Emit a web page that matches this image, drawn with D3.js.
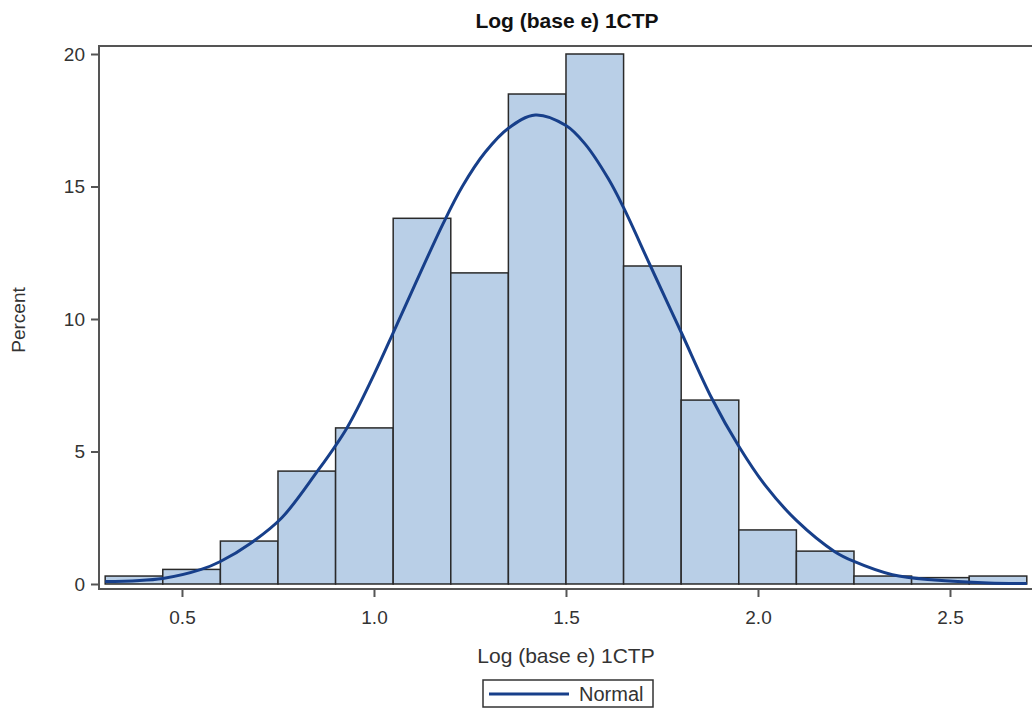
<!DOCTYPE html>
<html>
<head>
<meta charset="utf-8">
<script src="https://cdn.jsdelivr.net/npm/d3@7"></script>
<style>
  html, body { margin: 0; padding: 0; background: #fff; }
  svg { display: block; font-family: "Liberation Sans", Arial, sans-serif; }
</style>
</head>
<body>
<svg id="chart" width="1032" height="708"></svg>
<script>
// ---- data ----
const titleText = "Log (base e) 1CTP";
const xLabel = "Log (base e) 1CTP";
const yLabel = "Percent";
const legendLabel = "Normal";
const binWidth = 0.15;
const binStarts = [0.30, 0.45, 0.60, 0.75, 0.90, 1.05, 1.20, 1.35, 1.50, 1.65, 1.80, 1.95, 2.10, 2.25, 2.40, 2.55];
const binPercents = [0.30, 0.55, 1.62, 4.26, 5.89, 13.8, 11.74, 18.49, 20.0, 12.0, 6.94, 2.04, 1.24, 0.30, 0.24, 0.30];
const curveX = [0.30, 0.45, 0.55, 0.60, 0.68, 0.76, 0.85, 0.93, 1.00, 1.06, 1.18, 1.23, 1.29, 1.35, 1.42, 1.50, 1.55, 1.61, 1.65, 1.72, 1.80, 1.88, 1.95, 2.02, 2.10, 2.20, 2.25, 2.35, 2.46, 2.60, 2.70];
const curveY = [0.09, 0.21, 0.55, 0.85, 1.55, 2.50, 4.20, 5.90, 7.90, 9.80, 13.6, 15.0, 16.3, 17.2, 17.7, 17.3, 16.6, 15.3, 14.2, 12.0, 9.50, 7.00, 5.20, 3.70, 2.40, 1.22, 0.85, 0.35, 0.15, 0.04, 0.02];
const xTicks = [0.5, 1.0, 1.5, 2.0, 2.5];
const yTicks = [0, 5, 10, 15, 20];

// ---- layout ----
const svg = d3.select("#chart");
const pL = 99, pT = 46, pR = 1040, pB = 589;
const x = d3.scaleLinear().domain([0.2839, 2.7344]).range([pL, pR]);
const y = d3.scaleLinear().domain([-0.189, 20.302]).range([pB, pT]);

const axisColor = "#555";
const textColor = "#333";

svg.append("defs").append("clipPath").attr("id", "plotclip")
  .append("rect").attr("x", pL).attr("y", pT).attr("width", pR - pL).attr("height", pB - pT);

const plot = svg.append("g").attr("clip-path", "url(#plotclip)");

// bars
plot.selectAll("rect.bar").data(binStarts.map((s, i) => ({s, p: binPercents[i]})))
  .enter().append("rect").attr("class", "bar")
  .attr("x", d => x(d.s))
  .attr("y", d => y(d.p))
  .attr("width", d => x(d.s + binWidth) - x(d.s))
  .attr("height", d => y(0) - y(d.p))
  .attr("fill", "#b9cfe7")
  .attr("stroke", "#2a2a2a")
  .attr("stroke-width", 1.5);

// normal curve
const line = d3.line().x(d => x(d[0])).y(d => y(d[1])).curve(d3.curveCatmullRom.alpha(0.5));
plot.append("path")
  .datum(curveX.map((v, i) => [v, curveY[i]]))
  .attr("d", line)
  .attr("fill", "none")
  .attr("stroke", "#173f8a")
  .attr("stroke-width", 3);

// frame
svg.append("rect").attr("x", pL).attr("y", pT).attr("width", pR - pL).attr("height", pB - pT)
  .attr("fill", "none").attr("stroke", axisColor).attr("stroke-width", 2);

// axes
const xAxis = d3.axisBottom(x).tickValues(xTicks).tickFormat(d3.format(".1f")).tickSize(8).tickPadding(14);
const gx = svg.append("g").attr("transform", `translate(0,${pB})`).call(xAxis);
gx.select(".domain").remove();
gx.selectAll(".tick line").attr("stroke", axisColor).attr("stroke-width", 2);
gx.selectAll(".tick text").attr("fill", textColor).style("font-size", "19px");

const yAxis = d3.axisLeft(y).tickValues(yTicks).tickSize(8).tickPadding(6);
const gy = svg.append("g").attr("transform", `translate(${pL},0)`).call(yAxis);
gy.select(".domain").remove();
gy.selectAll(".tick line").attr("stroke", axisColor).attr("stroke-width", 2);
gy.selectAll(".tick text").attr("fill", textColor).style("font-size", "19px");

// title
svg.append("text").attr("x", 567).attr("y", 28).attr("text-anchor", "middle")
  .style("font-size", "21px").style("font-weight", "bold").attr("fill", "#111").text(titleText);

// axis labels
svg.append("text").attr("x", 566).attr("y", 663).attr("text-anchor", "middle")
  .style("font-size", "21px").attr("fill", textColor).text(xLabel);
svg.append("text").attr("transform", "translate(25,320) rotate(-90)").attr("text-anchor", "middle")
  .style("font-size", "19px").attr("fill", textColor).text(yLabel);

// legend
const lg = svg.append("g");
lg.append("rect").attr("x", 483).attr("y", 680).attr("width", 170).attr("height", 27)
  .attr("fill", "#fff").attr("stroke", "#333").attr("stroke-width", 1.5);
lg.append("line").attr("x1", 489).attr("x2", 569).attr("y1", 694).attr("y2", 694)
  .attr("stroke", "#173f8a").attr("stroke-width", 3);
lg.append("text").attr("x", 579).attr("y", 701).style("font-size", "20px").attr("fill", textColor).text(legendLabel);
</script>
</body>
</html>
